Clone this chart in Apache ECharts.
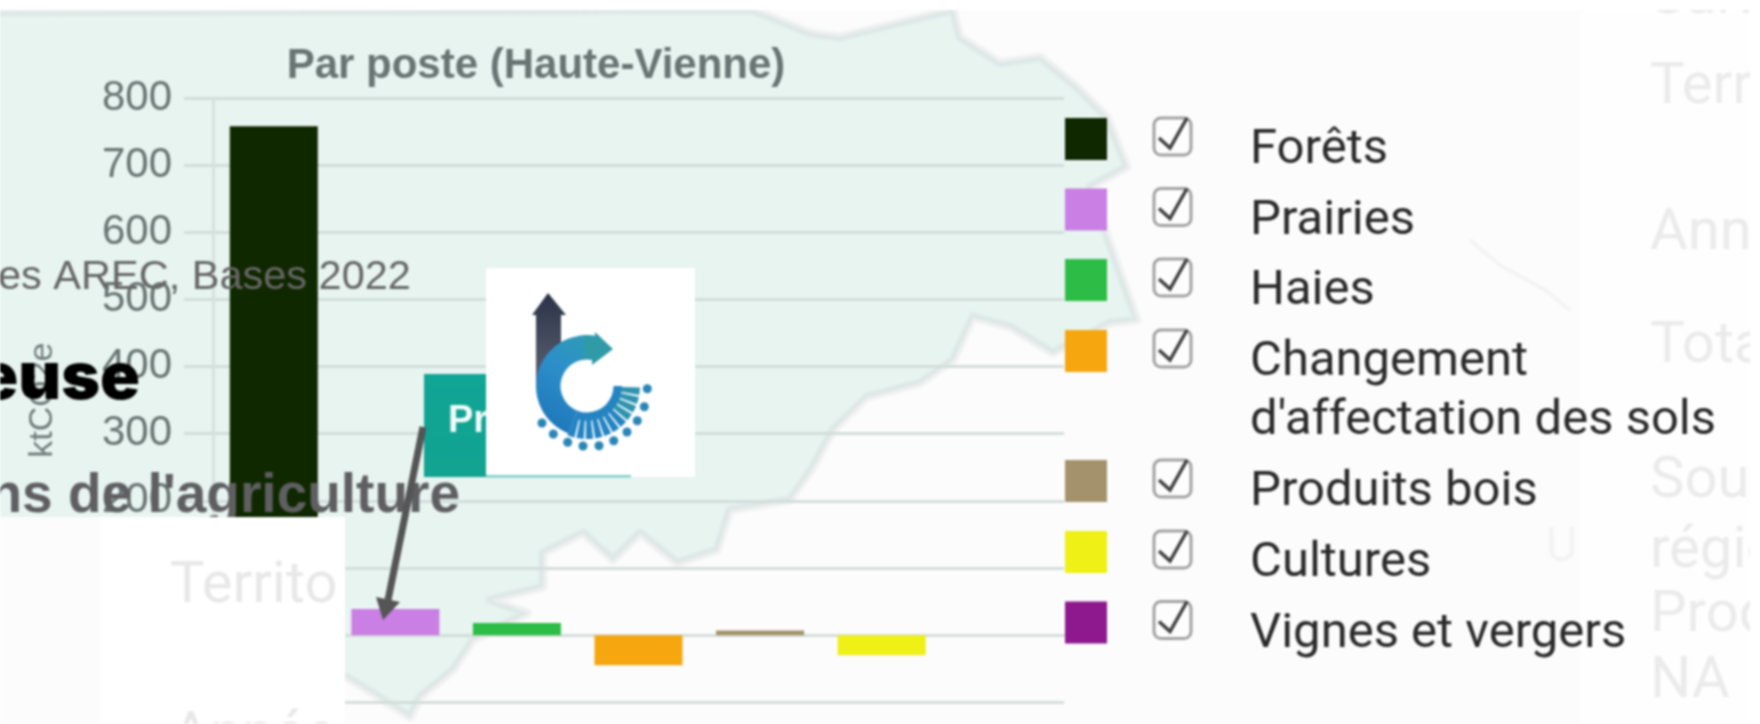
<!DOCTYPE html>
<html><head><meta charset="utf-8">
<style>html,body{margin:0;padding:0;background:#fff;overflow:hidden}#chart{width:1760px;height:724px;filter:blur(.8px)}</style>
<script src="https://cdn.jsdelivr.net/npm/echarts@6/dist/echarts.min.js"></script>
</head><body><div id="chart"></div>
<script>
const categories = ['Forêts','Prairies','Haies',"Changement\nd'affectation des sols",'Produits bois','Cultures','Vignes et vergers'];
const values = [758, 39, 18, -45, 7, -30, 0];
const barColors = ['#102800','#c97fe3','#2dbd46','#f6a60f','#a4926c','#eef016','#8e198e'];
const yTicks = {min:-100,max:800,interval:100};

const swatchTop = [118,188.5,259,330,460,531,601.5];
const labelDy = [33,33,33,62,33,33,33];
const mapOutline = [[-20,12],[753,10],[810,33],[840,37],[910,20],[953,10],[960,37],[1000,63],[1040,57],[1077,87],[1107,117],[1127,167],[1090,187],[1113,253],[1137,320],[1110,323],[1053,353],[1010,327],[973,317],[953,360],[920,383],[867,397],[833,430],[813,467],[790,500],[730,510],[717,550],[677,563],[640,533],[613,560],[583,533],[543,553],[543,587],[490,600],[527,613],[473,640],[453,670],[420,697],[410,717],[363,687],[346,677],[-20,677]];

const g = [];
const rect=(x,y,w,h,fill,z)=>g.push({type:'rect',silent:true,z,shape:{x,y,width:w,height:h},style:{fill}});
const txt=(x,y,s,font,fill,z,align)=>g.push({type:'text',silent:true,z,x,y,style:{text:s,font,fill,align:align||'left',verticalAlign:'middle'}});

// page background
rect(0,0,1760,724,'#fcfcfc',-30);
rect(1580,0,180,724,'#fefefe',-29);
g.push({type:'polygon',silent:true,z:-20,shape:{points:mapOutline},style:{fill:'#e7f4f0',stroke:'rgba(190,195,195,.14)',lineWidth:10,lineJoin:'round'}});
g.push({type:'polygon',silent:true,z:-19,shape:{points:mapOutline},style:{fill:null,stroke:'rgba(190,195,195,.14)',lineWidth:5,lineJoin:'round'}});
g.push({type:'polyline',silent:true,z:-20,shape:{points:[[1470,240],[1500,265],[1545,290],[1570,310]]},style:{stroke:'rgba(200,200,200,.14)',lineWidth:4,fill:null}});

// stacked page fragments over the chart
txt(-2,278,'es AREC, Bases 2022','41.5px "Liberation Sans"','#666666',30);
txt(140,379,'euse','900 66px "Inter"','#000000',31,'right');
txt(460,497,"ns de l'agriculture",'bold 55px "Liberation Sans"','#5f5f61',30,'right');
// teal button
g.push({type:'rect',silent:true,z:30,shape:{x:424,y:374,width:207,height:103},style:{fill:new echarts.graphic.LinearGradient(0,0,0,1,[{offset:0,color:'#11a595'},{offset:1,color:'#12a391'}])}});
txt(448,422,'Pr','bold 38px "Liberation Sans"','#f2fbf9',31);
// logo on white
rect(486,268,209,209,'#ffffff',35);
rect(486,475,145,2.5,'#7fd0c9',36);

const cx=587, cy=386, R=51, r0=26.5;
g.push({type:'polygon',silent:true,z:37,shape:{points:[[548,293],[566,315],[561,315],[561,372],[536,385],[536,315],[532,315]]},style:{fill:new echarts.graphic.LinearGradient(0,0,0,1,[{offset:0,color:'#2b3248'},{offset:1,color:'#5d6472'}])}});
g.push({type:'sector',silent:true,z:38,shape:{cx,cy,r:R,r0,startAngle:Math.PI*.62,endAngle:Math.PI*1.56},style:{fill:new echarts.graphic.LinearGradient(0,1,1,0,[{offset:0,color:'#1c72b6'},{offset:.6,color:'#2c8fca'},{offset:1,color:'#2f9db0'}])}});
g.push({type:'sector',silent:true,z:38,shape:{cx,cy,r:35,r0,startAngle:0,endAngle:Math.PI*.62},style:{fill:'#2484c2'}});
g.push({type:'polygon',silent:true,z:39,shape:{points:[[595,332],[613,349],[592,365],[592,357],[584,359],[584,335],[595,339]]},style:{fill:'#2f9ba6'}});
// fan of rays
for(let i=0;i<11;i++){const a0=1.95-i*.178;g.push({type:'sector',silent:true,z:38,shape:{cx,cy,r:53,r0:34,startAngle:a0-.14,endAngle:a0},style:{fill:i>6?'#2e93b0':'#2484c2'}});}
// dots
[[542,423],[553.3,434],[567.7,442.3],[583,446],[599,445.7],[613.7,440.7],[627,432],[637.3,420.7],[644.3,406.7],[647.3,388.7]].forEach(p=>g.push({type:'circle',silent:true,z:38,shape:{cx:p[0],cy:p[1],r:4.5},style:{fill:'#2a86b6'}}));

// white panel on lower left
rect(0,517,345,207,'#ffffff',50);
rect(0,517,100,207,'#fcfcfc',51);
txt(170,587,'Territo','58px Roboto','#e8e8e8',52);
txt(172,737,'Année','58px Roboto','#e8e8e8',52);

// arrow
g.push({type:'line',silent:true,z:60,shape:{x1:423,y1:427,x2:388,y2:600},style:{stroke:'#555555',lineWidth:7}});
g.push({type:'polygon',silent:true,z:60,shape:{points:[[383,620],[376,597],[400,602]]},style:{fill:'#555555'}});

// faded text right
[['Surface',-2],['Territoire',88],['Année',234],['Total',347],['Source',482],['région',552],['Produit',616],['NA',682],['Territoire',756]].forEach(t=>txt(1650,t[1],t[0],'58px Roboto','#ebebeb',52));
txt(1546,549,'U','48px Roboto','#f3f3f3',52);
rect(1750,0,10,724,'#ffffff',54);
rect(0,0,1760,10,'#ffffff',54);

// hand built legend
categories.forEach((c,i)=>{
  const y=swatchTop[i];
  rect(1065,y,42,42,barColors[i],20);
  g.push({type:'rect',silent:true,z:20,shape:{x:1154,y:y,width:37,height:37,r:7},style:{fill:'rgba(255,255,255,.4)',stroke:'#a2a2a2',lineWidth:3}});
  g.push({type:'polyline',silent:true,z:21,shape:{points:[[1159,y+20],[1170,y+30],[1187,y]]},style:{stroke:'#404040',lineWidth:3.5,fill:null}});
  g.push({type:'text',silent:true,z:21,x:1250,y:y+labelDy[i],style:{text:c,font:'49px Roboto',fill:'#2a2a2a',align:'left',verticalAlign:'middle',lineHeight:59}});
});

const chart=echarts.init(document.getElementById('chart'),null,{renderer:'canvas'});
chart.setOption({
  animation:false,
  title:{text:'Par poste (Haute-Vienne)',left:536,textAlign:'center',top:45,textStyle:{fontFamily:'Liberation Sans',fontWeight:'bold',fontSize:42,color:'#6a7573'},padding:0},
  grid:{left:213,right:696,top:98,bottom:21.7,containLabel:false},
  xAxis:{type:'category',data:categories,axisLabel:{show:false},axisTick:{show:false},axisLine:{show:true,onZero:true,lineStyle:{color:'#d3dedb',width:3}}},
  yAxis:{type:'value',min:yTicks.min,max:yTicks.max,interval:yTicks.interval,
    name:'ktCO2e',nameLocation:'middle',nameGap:153,nameTextStyle:{fontFamily:'Liberation Sans',fontSize:34,color:'#727d7b'},
    axisLine:{show:true,lineStyle:{color:'#d6e2de',width:3}},axisTick:{show:true,length:29,lineStyle:{color:'#d3dedb',width:3}},
    axisLabel:{margin:41,fontFamily:'Liberation Sans',fontSize:42,color:'#6a7472'},
    splitLine:{show:true,lineStyle:{color:'#d3dedb',width:3}}},
  series:[{type:'bar',barWidth:88,data:values.map((v,i)=>({value:v,itemStyle:{color:barColors[i]}}))}],
  graphic:{elements:g}
});
</script></body></html>
